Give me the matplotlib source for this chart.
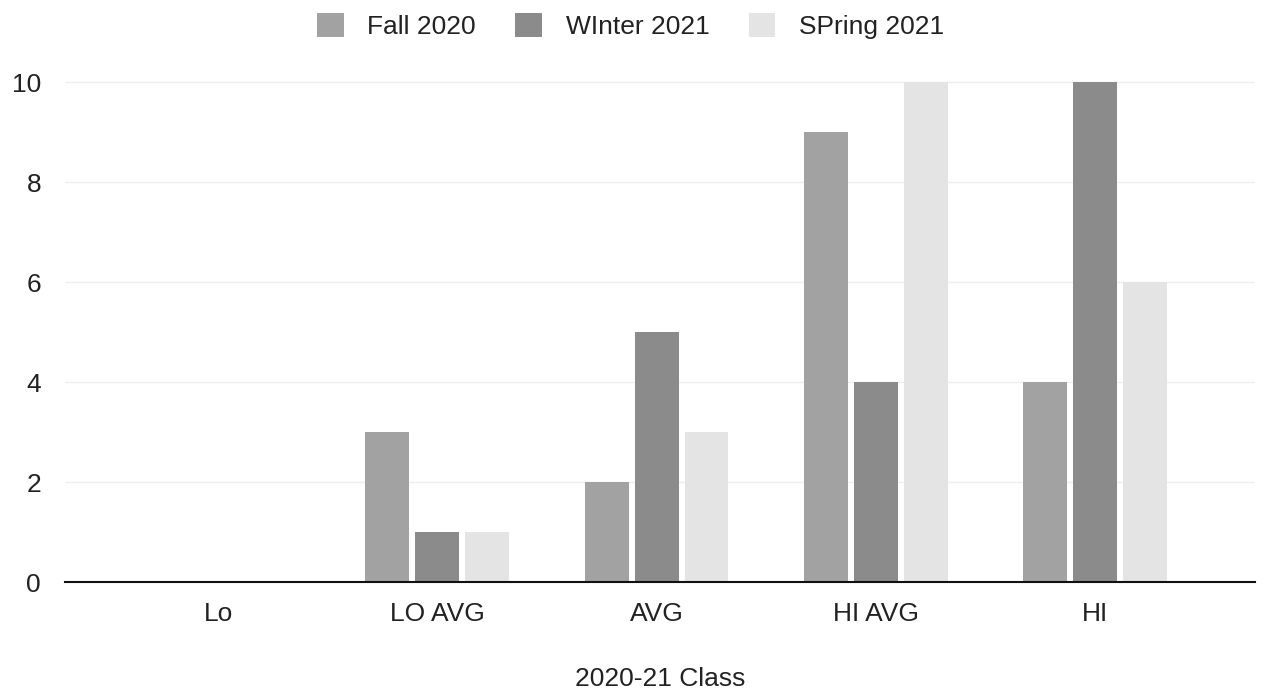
import matplotlib.pyplot as plt
import numpy as np

# données
categories = ['Lo', 'LO AVG', 'AVG', 'HI AVG', 'HI']
fall_2020 = [0, 3, 2, 9, 4]
winter_2021 = [0, 1, 5, 4, 10]
spring_2021 = [0, 1, 3, 10, 6]
series_names = ['Fall 2020', 'WInter 2021', 'SPring 2021']
couleurs = ['#a2a2a2', '#8b8b8b', '#e4e4e4']

plt.rcParams['font.family'] = ['Liberation Sans', 'DejaVu Sans']

fig = plt.figure(figsize=(12.69, 6.94), dpi=100)
ax = fig.add_axes([0.051, 0.161, 0.938, 0.724])

x = np.arange(len(categories))
largeur = 0.2
decalage = 0.228
for i, (valeurs, nom) in enumerate(zip([fall_2020, winter_2021, spring_2021], series_names)):
    ax.bar(x + (i - 1) * decalage, valeurs, largeur, color=couleurs[i], label=nom, zorder=2)

ax.set_xlim(-0.7, 4.73)
ax.set_ylim(0, 10.05)
ax.set_yticks([0, 2, 4, 6, 8, 10])
ax.set_xticks(x)
ax.set_xticklabels(categories)
ax.tick_params(axis='both', length=0, labelsize=19, colors='#222222')
ax.tick_params(axis='x', pad=14)
ax.tick_params(axis='y', pad=17)
ax.grid(axis='y', color='#eeeeee', lw=1, zorder=0)
for s in ['top', 'right', 'left']:
    ax.spines[s].set_visible(False)
ax.spines['bottom'].set_color('#111111')
ax.spines['bottom'].set_linewidth(1.5)

ax.set_xlabel('2020-21 Class', fontsize=19, color='#222222', labelpad=30)

fig.legend(loc='upper center', bbox_to_anchor=(0.497, 1.015), ncol=3, frameon=False,
           fontsize=19, handlelength=1.0, handleheight=1.0, columnspacing=1.5,
           handletextpad=0.9, labelcolor='#222222')

fig.savefig('out.png', dpi=100, facecolor='white')
